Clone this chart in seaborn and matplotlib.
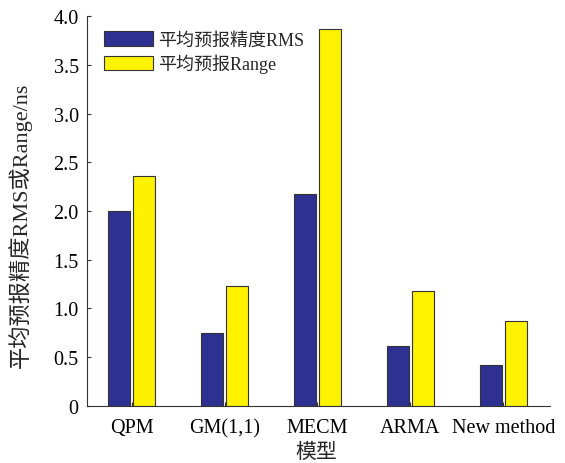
import matplotlib
matplotlib.use("Agg")
import matplotlib.pyplot as plt
import seaborn as sns
import pandas as pd
from matplotlib.ticker import FuncFormatter

models = ["QPM", "GM(1,1)", "MECM", "ARMA", "New method"]
rms_values = [2.00, 0.75, 2.17, 0.62, 0.42]
range_values = [2.36, 1.23, 3.87, 1.18, 0.87]
series_names = ["平均预报精度RMS", "平均预报Range"]
colors = ["#2E3192", "#FFF200"]

df = pd.DataFrame({
    "model": models * 2,
    "value": rms_values + range_values,
    "series": [series_names[0]] * len(models) + [series_names[1]] * len(models),
})

sns.set_theme(style="white")
fonts = ["Liberation Serif", "Noto Sans CJK SC"]
plt.rcParams["font.family"] = fonts

fig = plt.figure(figsize=(5.65, 4.64), dpi=100)
ax = fig.add_axes([0.154, 0.123, 0.819, 0.840])

sns.barplot(data=df, x="model", y="value", hue="series", order=models,
            hue_order=series_names, palette=colors, width=0.53, gap=0.1,
            edgecolor="#333333", linewidth=0.8, saturation=1, ax=ax)

ax.set_ylim(0, 4.0)
ax.set_xlim(-0.48, 4.5)
ax.set_yticks([0, 0.5, 1.0, 1.5, 2.0, 2.5, 3.0, 3.5, 4.0])
ax.yaxis.set_major_formatter(FuncFormatter(lambda v, p: "0" if v == 0 else f"{v:.1f}"))

for s in ["top", "right"]:
    ax.spines[s].set_visible(False)
for s in ["left", "bottom"]:
    ax.spines[s].set_color("#333333")
    ax.spines[s].set_linewidth(0.8)

ax.tick_params(axis="both", direction="in", length=3, width=0.8, color="#333333",
               labelsize=14.5, labelcolor="black")
ax.tick_params(axis="x", pad=9)
ax.tick_params(axis="y", pad=6)
ax.tick_params(axis="both", which="both", bottom=True, left=True)

ax.set_xlabel("模型", fontsize=15, family=fonts)
ax.xaxis.label.set_verticalalignment("center")
ax.xaxis.set_label_coords(0.495, -0.118)
ax.set_ylabel("平均预报精度RMS或Range/ns", fontsize=16, family=fonts)
ax.yaxis.set_label_coords(-0.119, 0.467)

leg = ax.legend(loc="upper left", bbox_to_anchor=(0.005, 1.0), frameon=False,
                fontsize=13, handlelength=2.7, handleheight=0.9,
                labelspacing=0.3, handletextpad=0.3, borderaxespad=0.4)
for p in leg.get_patches():
    p.set_edgecolor("#333333")
    p.set_linewidth(0.8)

fig.savefig("out.png", dpi=100, facecolor="white")
